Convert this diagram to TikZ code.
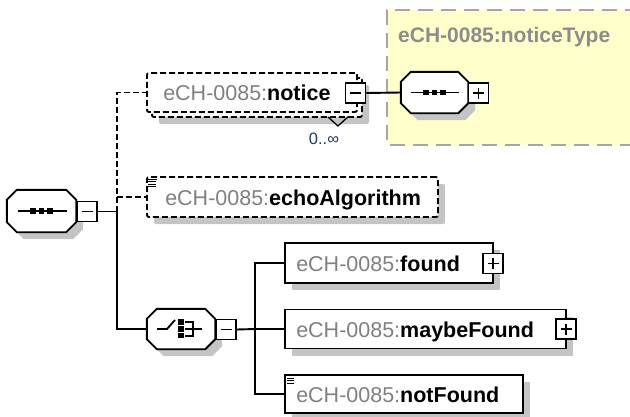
\documentclass[tikz,border=0pt]{standalone}
\usepackage{fontspec}
\setmainfont{Liberation Sans}
\usetikzlibrary{shadows,calc}
\definecolor{shadowc}{HTML}{C4C4C4}
\definecolor{pfxc}{HTML}{808080}
\definecolor{yel}{HTML}{FFFFCC}
\definecolor{ybord}{HTML}{A6A6A6}
\definecolor{ntc}{HTML}{8C8C8C}
\definecolor{occ}{HTML}{1F3864}
\newcommand\octpath[2]{([xshift=#2]#1.north west) -- ([xshift=-#2]#1.north east) -- ([yshift=-#2]#1.north east) -- ([yshift=#2]#1.south east) -- ([xshift=-#2]#1.south east) -- ([xshift=#2]#1.south west) -- ([yshift=#2]#1.south west) -- ([yshift=-#2]#1.north west) -- cycle}
\newcommand\pfxtext[1]{\textcolor{pfxc}{#1}}
\begin{document}
\begin{tikzpicture}[x=1pt,y=-1pt,line join=miter,
  conn/.style={line width=1.9pt},
  dsh/.style={dash pattern=on 6pt off 3pt},
  elbox/.style={draw,line width=1.9pt,fill=white,inner sep=0pt},
  shd/.style={drop shadow={opacity=1,fill=shadowc,shadow xshift=7pt,shadow yshift=-7pt}},
  sq/.style={draw,line width=1.8pt,fill=white,minimum width=20pt,minimum height=20pt,inner sep=0pt},
  ghost/.style={inner sep=0pt},
  lbl/.style={inner sep=0pt,anchor=base west,font=\fontsize{21.5}{24}\selectfont},
  sign/.style={line width=1.6pt},
  icon/.style={line width=1.8pt},
]
\useasboundingbox (0,0) rectangle (630,416);
% complex type box
\fill[yel] (387,10) rectangle (640,145);
\draw[ybord,line width=1.9pt,dash pattern=on 15pt off 8pt] (640,10) -- (387,10) -- (387,145) -- (640,145);
\node[inner sep=0pt,anchor=base west,font=\fontsize{21}{24}\selectfont\bfseries,text=ntc] (ntlbl) at (398,42) {eCH-0085:noticeType};

% root sequence
\node[ghost,minimum width=69pt,minimum height=42pt] (root) at (41.5,211) {};
\draw[line width=1.9pt,fill=white,shd] \octpath{root}{10pt};
\draw[icon] ([xshift=-24pt]root.center) -- ([xshift=25pt]root.center);
\foreach \d in {-8.5,0,8.5} \fill ([xshift=\d pt]root.center) ++(-2.7,-2.7) rectangle ++(5.4,5.4);
\node[sq] (rootm) at (87,211.5) {};
\draw[sign] ([xshift=-5.5pt]rootm.center) -- ([xshift=5.5pt]rootm.center);

% notice
\node[elbox,dsh,shd,rounded corners=2pt,minimum width=210pt,minimum height=39pt] (noticeb) at (257,97.5) {};
\node[elbox,dsh,rounded corners=2pt,minimum width=210pt,minimum height=39pt] (notice) at (252,92.5) {};
\node[lbl] (noticet) at ([xshift=17pt,yshift=-7.5pt]notice.west) {\pfxtext{eCH-0085:}\textbf{notice}};
\node[sq] (noticem) at (355.5,93) {};
\draw[sign] ([xshift=-5.5pt]noticem.center) -- ([xshift=5.5pt]noticem.center);
\draw[line width=1.3pt] ([xshift=-35pt,yshift=1pt]noticeb.south east) -- ++(10,9) -- ++(10,-9);
\node[inner sep=0pt,font=\fontsize{16.5}{18}\selectfont,text=occ] (occ) at (324,139) {0..∞};

% noticeType sequence
\node[ghost,minimum width=67pt,minimum height=41pt] (ntoct) at (434.5,92.5) {};
\draw[line width=1.9pt,fill=white,shd] \octpath{ntoct}{10pt};
\draw[icon] ([xshift=-24pt]ntoct.center) -- ([xshift=24pt]ntoct.center);
\foreach \d in {-8.5,0,8.5} \fill ([xshift=\d pt]ntoct.center) ++(-2.7,-2.7) rectangle ++(5.4,5.4);
\node[sq] (ntp) at (478.5,93) {};
\draw[sign] ([xshift=-5.5pt]ntp.center) -- ([xshift=5.5pt]ntp.center) ([yshift=-5.5pt]ntp.center) -- ([yshift=5.5pt]ntp.center);
\draw[conn] (noticem.east) -- (ntoct.west);

% echoAlgorithm
\node[elbox,dsh,shd,rounded corners=2pt,minimum width=291pt,minimum height=40pt] (echo) at (292.5,197) {};
\node[lbl] (echot) at ([xshift=19pt,yshift=-8pt]echo.west) {\pfxtext{eCH-0085:}\textbf{echoAlgorithm}};
\foreach \k/\l in {3/9,5.5/8,8/8,10.5/8} \draw[line width=1.1pt] ([xshift=2pt,yshift=-\k pt]echo.north west) -- ++(\l,0);

% choice
\node[ghost,minimum width=68pt,minimum height=40pt] (choice) at (181,329) {};
\draw[line width=1.9pt,fill=white,shd] \octpath{choice}{10pt};
\draw[icon] ([xshift=-24pt]choice.center) -- ++(10,0) -- ++(8,-9);
\foreach \d in {-7,0,6.5} \fill ([yshift=-\d pt]choice.center) ++(-2.6,-2.8) rectangle ++(5.2,5.6);
\draw[line width=1.6pt] ([xshift=4pt,yshift=7pt]choice.center) -- ++(8,0) -- ++(0,14) -- ++(-8,0);
\draw[line width=1.6pt] ([xshift=4pt]choice.center) -- ++(17,0);
\node[sq] (choicem) at (226,329.5) {};
\draw[sign] ([xshift=-5.5pt]choicem.center) -- ([xshift=5.5pt]choicem.center);

% found, maybeFound, notFound
\node[elbox,shd,minimum width=208pt,minimum height=40pt] (found) at (389,263) {};
\node[lbl] (foundt) at ([xshift=12pt,yshift=-8.5pt]found.west) {\pfxtext{eCH-0085:}\textbf{found}};
\node[sq] (foundp) at (493,263.5) {};
\draw[sign] ([xshift=-5.5pt]foundp.center) -- ([xshift=5.5pt]foundp.center) ([yshift=-5.5pt]foundp.center) -- ([yshift=5.5pt]foundp.center);

\node[elbox,shd,minimum width=281pt,minimum height=39pt] (maybe) at (425.5,329) {};
\node[lbl] (maybet) at ([xshift=12pt,yshift=-8pt]maybe.west) {\pfxtext{eCH-0085:}\textbf{maybeFound}};
\node[sq] (maybep) at (566,329) {};
\draw[sign] ([xshift=-5.5pt]maybep.center) -- ([xshift=5.5pt]maybep.center) ([yshift=-5.5pt]maybep.center) -- ([yshift=5.5pt]maybep.center);

\node[elbox,shd,minimum width=238pt,minimum height=38pt] (notfound) at (404,394) {};
\node[lbl] (notfoundt) at ([xshift=12pt,yshift=-8pt]notfound.west) {\pfxtext{eCH-0085:}\textbf{notFound}};
\foreach \k in {4,6.5,9} \draw[line width=1.1pt] ([xshift=3pt,yshift=-\k pt]notfound.north west) -- ++(7,0);

% connectors
\coordinate (tr) at (117,211.5);
\draw[conn] (rootm.east) -- (tr);
\draw[conn] (tr) |- (choice.west);
\draw[conn,dsh] (tr) |- (notice.west);
\draw[conn,dsh] (tr |- echo.west) -- (echo.west);
\coordinate (cv) at (255,329);
\draw[conn] (choicem.east) -- (cv);
\draw[conn] (found.west) -| (cv) |- (notfound.west);
\draw[conn] (cv) -- (maybe.west);
\end{tikzpicture}
\end{document}
